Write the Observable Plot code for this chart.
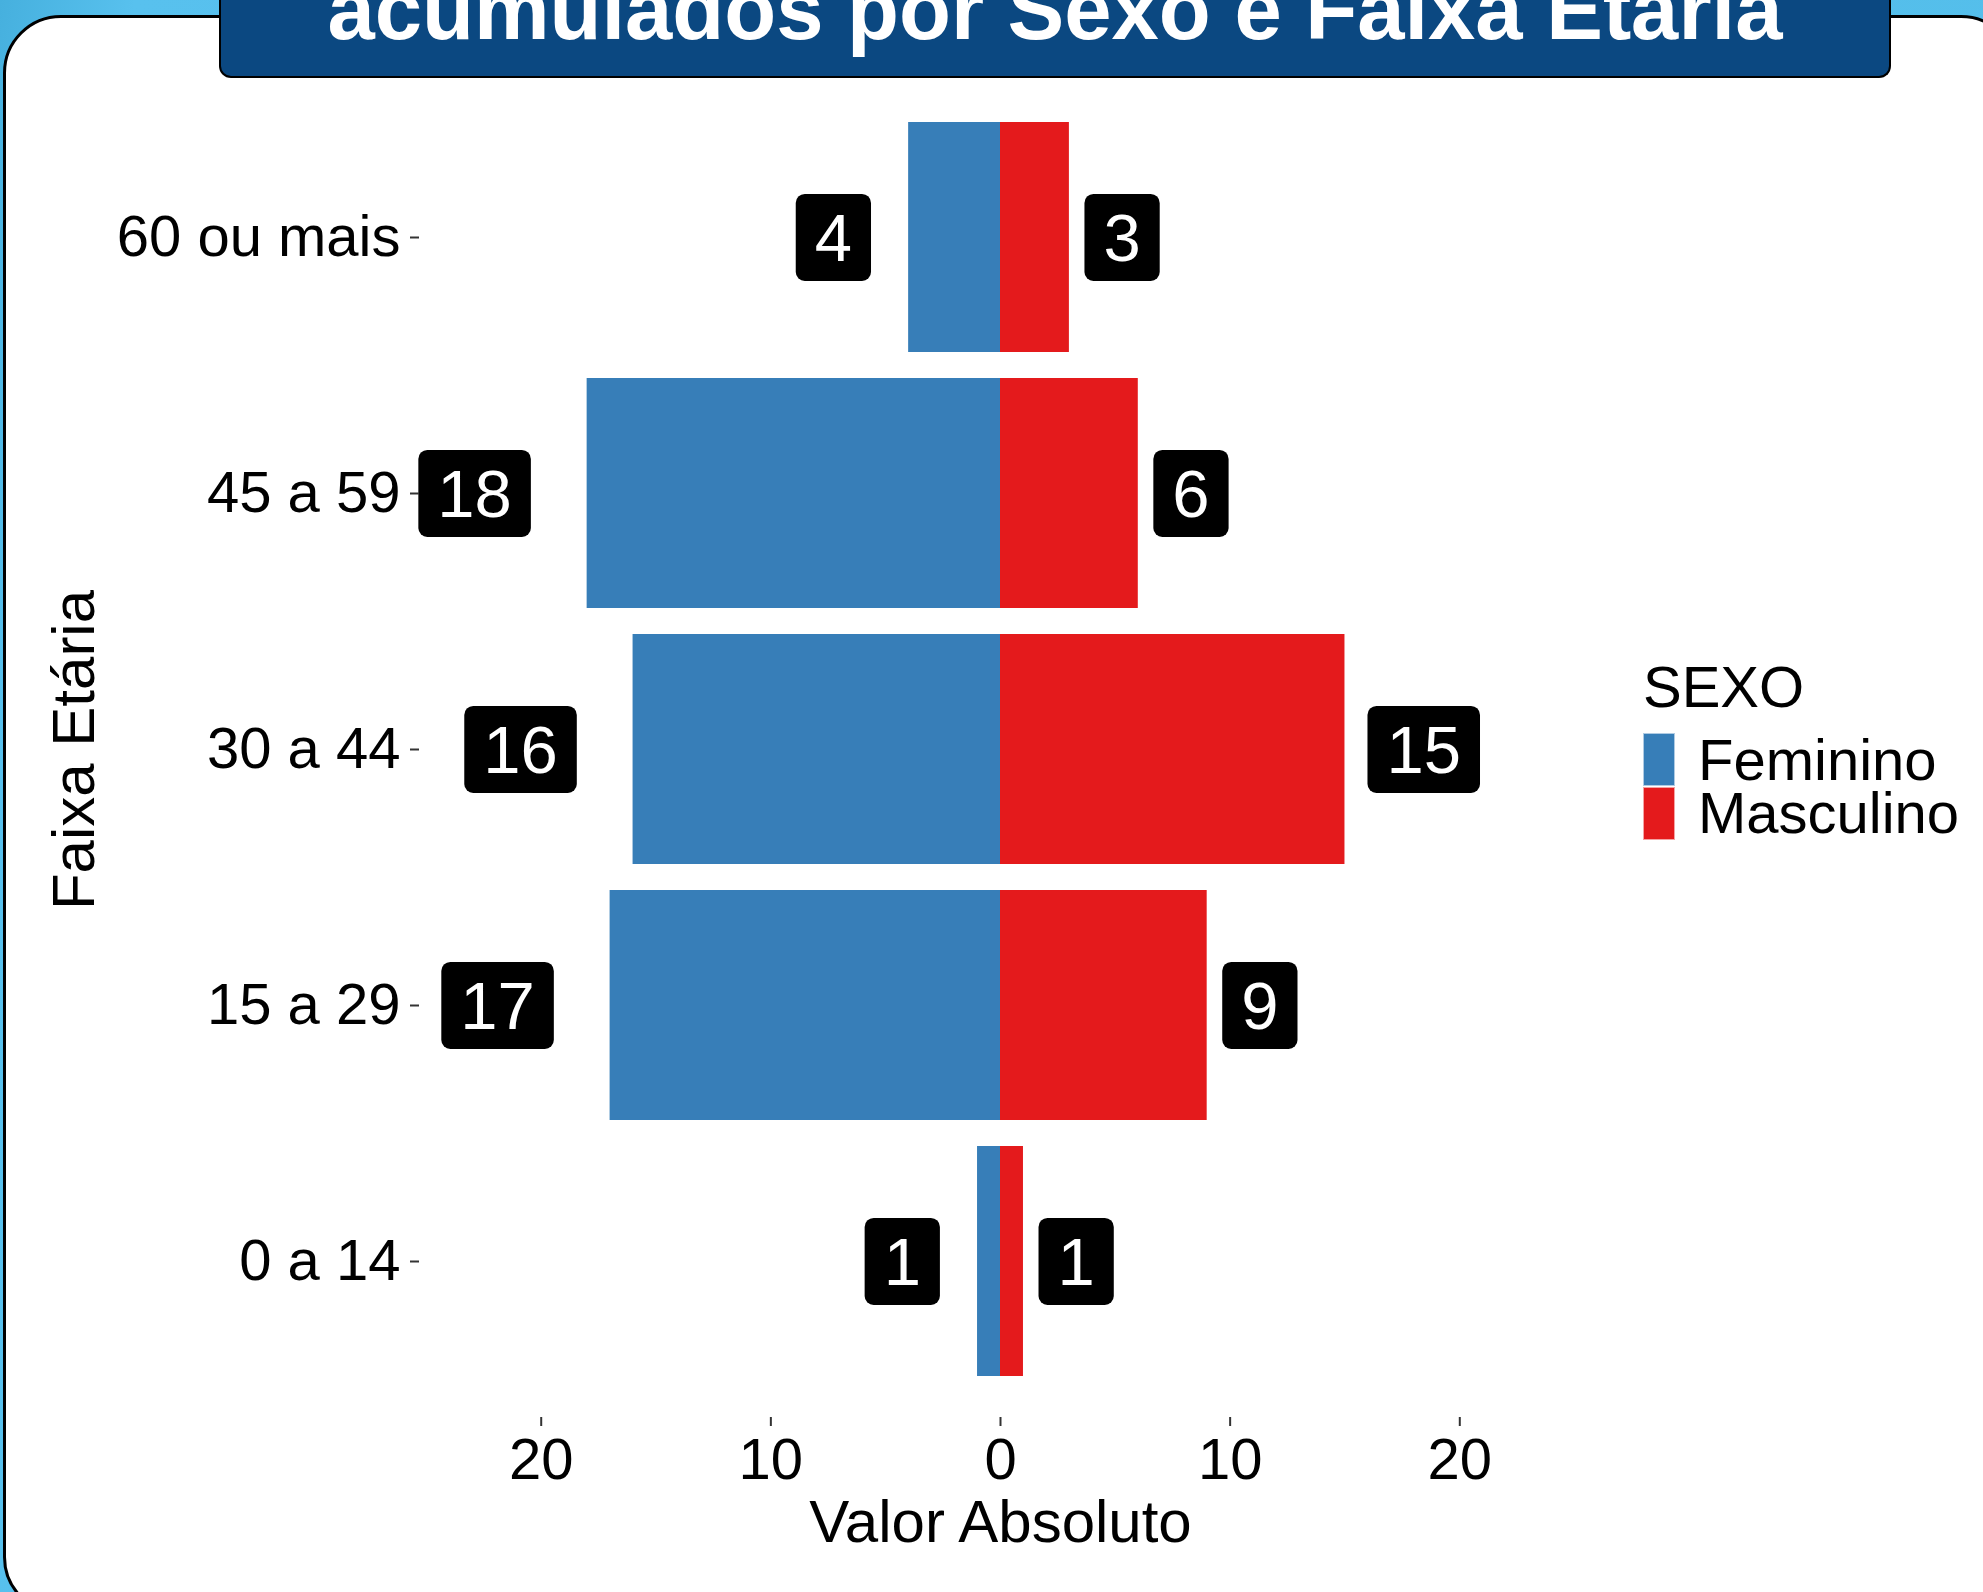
<!DOCTYPE html>
<html lang="pt-BR">
<head>
<meta charset="utf-8">
<script src="https://cdn.jsdelivr.net/npm/d3@7"></script>
<script src="https://cdn.jsdelivr.net/npm/@observablehq/plot@0.6"></script>
<style>
  html, body { margin: 0; padding: 0; overflow: hidden; }
  body { width: 1983px; height: 1592px; font-family: "Liberation Sans", Arial, sans-serif; }
  #page { position: relative; width: 1983px; height: 1592px; overflow: hidden;
          background: linear-gradient(100deg, #46b0de 0%, #58c1ee 6%, #53bdea 40%, #55bfeb 100%); }
  #panel { position: absolute; left: 3px; top: 15px; width: 2016px; height: 1600px; box-sizing: border-box;
           background: #fff; border: 3px solid #000; border-radius: 58px; }
  #banner { position: absolute; left: 219px; top: -20px; width: 1672px; height: 98px; box-sizing: border-box;
            background: #0b4881; border: 2px solid #000; border-top: none; border-radius: 0 0 12px 12px; }
  #title { position: absolute; left: 219px; width: 1672px; top: -33px; text-align: center; color: #fff;
           font-weight: bold; font-size: 85px; line-height: 85px; white-space: nowrap; }
  #chart { position: absolute; left: 0; top: 0; }
  .leg { position: absolute; font-size: 58px; line-height: 50px; color: #000; white-space: nowrap; }
  .key { position: absolute; width: 32px; height: 53px; box-sizing: border-box; border: 1px solid rgba(255,255,255,0.6); }
</style>
</head>
<body>
<div id="page">
  <div id="panel"></div>
  <div id="banner"></div>
  <div id="title">acumulados por Sexo e Faixa Etária</div>
  <div id="chart"></div>
  <div id="legend"></div>
</div>
<script>
// ---- data ----
const faixas = ["60 ou mais", "45 a 59", "30 a 44", "15 a 29", "0 a 14"];
const feminino = [4, 18, 16, 17, 1];
const masculino = [3, 6, 15, 9, 1];
const sexos = ["Feminino", "Masculino"];
const cores = ["#377eb8", "#e41a1c"];
const xTicks = [-20, -10, 0, 10, 20];
const tituloX = "Valor Absoluto";
const tituloY = "Faixa Etária";
const tituloLegenda = "SEXO";

const rows = [];
faixas.forEach((f, i) => {
  rows.push({faixa: f, sexo: "Feminino", valor: -feminino[i], n: feminino[i]});
  rows.push({faixa: f, sexo: "Masculino", valor: masculino[i], n: masculino[i]});
});

const font = "'Liberation Sans', Arial, sans-serif";

const plot = Plot.plot({
  width: 1983,
  height: 1592,
  marginLeft: 419,
  marginRight: 402,
  marginTop: 82,
  marginBottom: 175,
  style: {background: "transparent", fontFamily: font, overflow: "visible", maxWidth: "none"},
  x: {domain: [-25.3, 25.3]},
  y: {domain: faixas, paddingInner: 0.1, paddingOuter: 0.15},
  color: {domain: sexos, range: cores},
  marks: [
    Plot.barX(rows, {x: "valor", y: "faixa", fill: "sexo"}),
    Plot.text(rows.filter(d => d.sexo === "Feminino"), {
      x: "valor", y: "faixa", text: d => String(d.n), fill: "white", fontSize: 67,
      ariaDescription: "rotulos-esq"
    }),
    Plot.text(rows.filter(d => d.sexo === "Masculino"), {
      x: "valor", y: "faixa", text: d => String(d.n), fill: "white", fontSize: 67,
      ariaDescription: "rotulos-dir"
    }),
    Plot.axisX({ticks: xTicks, tickFormat: d => Math.abs(d), tickSize: 9, tickPadding: 11,
                fontSize: 58, label: null, stroke: "#333", strokeWidth: 2, fill: "#000"}),
    Plot.axisY({tickSize: 9, tickPadding: 10, fontSize: 58, label: null,
                stroke: "#333", strokeWidth: 2, fill: "#000"}),
    Plot.text([tituloX], {text: d => d, frameAnchor: "bottom", textAnchor: "middle", dy: 124, fontSize: 60, fill: "#000"}),
    Plot.text([tituloY], {text: d => d, frameAnchor: "left", textAnchor: "middle", dx: -345, rotate: -90, fontSize: 60, fill: "#000"})
  ]
});

document.getElementById("chart").append(plot);

// ---- rounded black label boxes (ggplot geom_label look) ----
function boxes(selector, hjust) {
  const g = plot.querySelector(`g[aria-description="${selector}"]`);
  if (!g) return;
  const pad = 19, h = 87, svgNS = "http://www.w3.org/2000/svg";
  g.querySelectorAll("text").forEach(t => {
    const b = t.getBBox();
    const w = b.width + 2 * pad;
    const shift = (0.5 - hjust) * w;
    const tr = (t.getAttribute("transform") || "") + ` translate(${shift},2)`;
    t.setAttribute("transform", tr);
    const r = document.createElementNS(svgNS, "rect");
    r.setAttribute("transform", tr);
    r.setAttribute("x", b.x - pad);
    r.setAttribute("y", b.y + b.height / 2 - h / 2);
    r.setAttribute("width", w);
    r.setAttribute("height", h);
    r.setAttribute("rx", 9);
    r.setAttribute("fill", "#000");
    t.parentNode.insertBefore(r, t);
  });
}
boxes("rotulos-esq", 1.5);
boxes("rotulos-dir", -0.2);

// ---- legend ----
const color = plot.scale("color");
const leg = document.getElementById("legend");
const lt = document.createElement("div");
lt.className = "leg"; lt.style.left = "1643px"; lt.style.top = "662px"; lt.textContent = tituloLegenda;
leg.append(lt);
color.domain.forEach((s, i) => {
  const k = document.createElement("div");
  k.className = "key";
  k.style.left = "1643px";
  k.style.top = (733 + i * 54) + "px";
  k.style.background = color.range[i];
  leg.append(k);
  const l = document.createElement("div");
  l.className = "leg";
  l.style.left = "1698px";
  l.style.top = (735 + i * 53) + "px";
  l.textContent = s;
  leg.append(l);
});
</script>
</body>
</html>
